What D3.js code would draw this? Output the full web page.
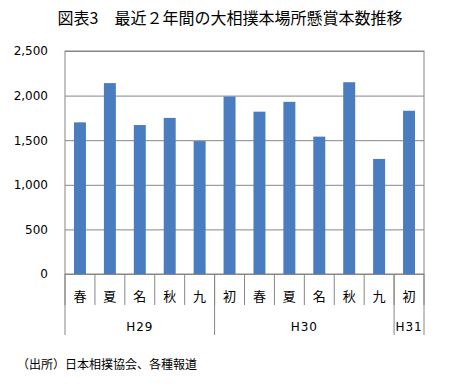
<!DOCTYPE html>
<html>
<head>
<meta charset="utf-8">
<script src="https://cdn.jsdelivr.net/npm/d3@7"></script>
<style>
  body { margin: 0; background: #fff; }
  svg { display: block; }
</style>
</head>
<body>
<div id="chart"></div>
<script>
// data
const basho = ["春", "夏", "名", "秋", "九", "初", "春", "夏", "名", "秋", "九", "初"];
const kenshoCount = [1700, 2140, 1670, 1750, 1490, 1990, 1820, 1930, 1540, 2150, 1290, 1830];
const years = ["H29", "H30", "H31"];
const yearSpans = [5, 6, 1];
const yTicks = [0, 500, 1000, 1500, 2000, 2500];

const width = 456, height = 386;
const margin = { top: 51, right: 32, bottom: 112, left: 65 };
const innerWidth = width - margin.left - margin.right;
const innerHeight = height - margin.top - margin.bottom;

const svg = d3.select("#chart").append("svg")
    .attr("width", width)
    .attr("height", height);

const cjk = "'Noto Sans CJK JP', sans-serif";
const gridColor = "#868686";

svg.append("text")
    .attr("x", 230)
    .attr("y", 24)
    .attr("text-anchor", "middle")
    .attr("font-family", cjk)
    .attr("font-size", 16)
    .text("図表3　最近２年間の大相撲本場所懸賞本数推移");

const g = svg.append("g").attr("transform", `translate(${margin.left},${margin.top})`);

const x = d3.scaleBand().domain(d3.range(basho.length)).range([0, innerWidth]);
const y = d3.scaleLinear().domain([0, 2500]).range([innerHeight, 0]);

// gridlines + labels
const yAxis = g.append("g")
    .call(d3.axisLeft(y).tickValues(yTicks).tickFormat(d3.format(",")).tickSize(-innerWidth).tickPadding(17));
yAxis.select(".domain").remove();
yAxis.selectAll("line").attr("stroke", gridColor);
yAxis.selectAll("text")
    .attr("font-family", "'DejaVu Sans', sans-serif")
    .attr("font-size", 12)
    .attr("fill", "#000");

// plot border
g.append("rect")
    .attr("x", 0).attr("y", 0)
    .attr("width", innerWidth).attr("height", innerHeight)
    .attr("fill", "none")
    .attr("stroke", gridColor);

// bars
g.selectAll(".bar").data(kenshoCount).join("rect")
    .attr("class", "bar")
    .attr("x", (d, i) => x(i) + x.bandwidth() * 0.3)
    .attr("width", x.bandwidth() * 0.4)
    .attr("y", d => y(d))
    .attr("height", d => innerHeight - y(d))
    .attr("fill", "#4a7cc0");

// category axis: short separators and labels
const catRow = 31, yearRow = 61;
g.selectAll(".sep").data(d3.range(basho.length + 1)).join("line")
    .attr("class", "sep")
    .attr("x1", i => i * x.step()).attr("x2", i => i * x.step())
    .attr("y1", innerHeight).attr("y2", innerHeight + catRow)
    .attr("stroke", gridColor);

g.selectAll(".cat").data(basho).join("text")
    .attr("class", "cat")
    .attr("x", (d, i) => x(i) + x.bandwidth() / 2)
    .attr("y", innerHeight + 27)
    .attr("text-anchor", "middle")
    .attr("font-family", cjk)
    .attr("font-size", 13)
    .text(d => d);

// year groups
const yearStarts = d3.cumsum([0, ...yearSpans]);
g.selectAll(".ysep").data(yearStarts).join("line")
    .attr("class", "ysep")
    .attr("x1", k => k * x.step()).attr("x2", k => k * x.step())
    .attr("y1", innerHeight).attr("y2", innerHeight + yearRow)
    .attr("stroke", gridColor);

g.selectAll(".year").data(years).join("text")
    .attr("class", "year")
    .attr("x", (d, i) => (yearStarts[i] + yearSpans[i] / 2) * x.step())
    .attr("y", innerHeight + 57)
    .attr("text-anchor", "middle")
    .attr("font-family", "'DejaVu Sans', sans-serif")
    .attr("font-size", 12)
    .attr("letter-spacing", 1)
    .text(d => d);

svg.append("text")
    .attr("x", 17)
    .attr("y", 369)
    .attr("font-family", cjk)
    .attr("font-size", 12)
    .text("（出所）日本相撲協会、各種報道");
</script>
</body>
</html>
